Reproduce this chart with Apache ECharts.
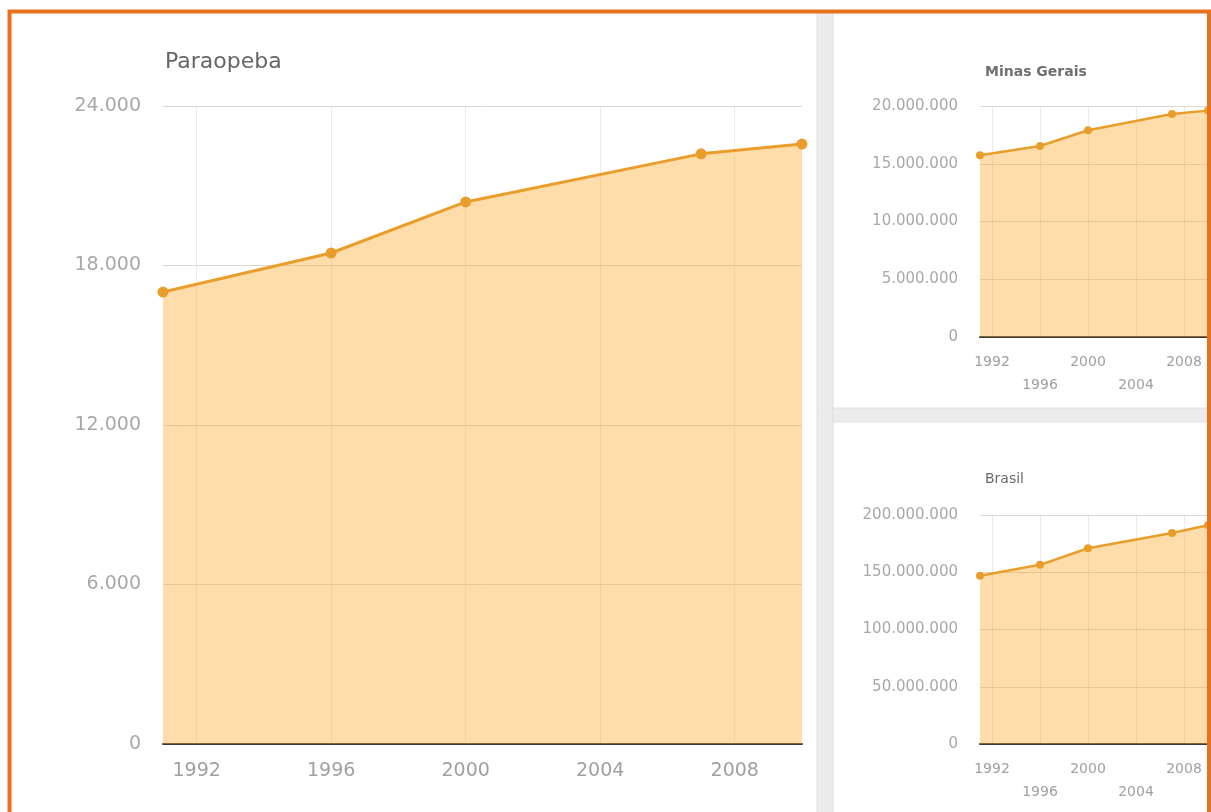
<!DOCTYPE html>
<html>
<head>
<meta charset="utf-8">
<script src="https://cdn.jsdelivr.net/npm/echarts@6/dist/echarts.min.js"></script>
<style>
html,body{margin:0;padding:0;background:#fff;overflow:hidden;}
#c{width:1211px;height:812px;}
</style>
</head>
<body>
<div id="c"></div>
<script>
// ---- data ----
const years = [1991, 1996, 2000, 2007, 2010];
const paraopeba = [17000, 18470, 20390, 22200, 22570];
const minasGerais = [15740000, 16540000, 17900000, 19300000, 19600000];
const brasil = [147000000, 156500000, 171000000, 184300000, 191000000];
const xTicks = [1992, 1996, 2000, 2004, 2008];
const secondRowTicks = [1996, 2004];
const titles = ['Paraopeba', 'Minas Gerais', 'Brasil'];

const LINE = '#e99e2c';
const AREA = 'rgba(255,170,45,0.40)';
const FONT = 'DejaVu Sans';

function fmt(v){ return String(v).replace(/\B(?=(\d{3})+(?!\d))/g, '.'); }
function pairs(vals){ return years.map((y,i)=>[y, vals[i]]); }

function xAxis(idx, size, twoRows){
  return {
    type:'value', gridIndex: idx, min: 1991, max: 2010,
    axisLine:{show:true, onZero:false, lineStyle:{color:'#3a3a3a', width:2}},
    axisTick:{show:false, customValues: xTicks},
    splitLine:{show:true, lineStyle:{color:'rgba(200,200,200,0.35)', width:1}},
    axisLabel:{
      customValues: xTicks, color:'#a0a0a0', fontFamily: FONT, fontSize: size,
      margin: twoRows ? 14 : 17, lineHeight: twoRows ? 23 : size+2,
      formatter: v => (twoRows && secondRowTicks.indexOf(v) >= 0) ? '\n' + v : String(v)
    }
  };
}
function yAxis(idx, max, interval, size){
  return {
    type:'value', gridIndex: idx, min: 0, max: max, interval: interval,
    axisLine:{show:false}, axisTick:{show:false},
    splitLine:{show:true, lineStyle:{color:'rgba(185,175,165,0.5)', width:1}},
    axisLabel:{color:'#a8a8a8', fontFamily: FONT, fontSize: size, margin: 22, formatter: fmt}
  };
}
function series(idx, vals, lw, sym){
  return {
    type:'line', xAxisIndex: idx, yAxisIndex: idx, data: pairs(vals),
    symbol:'circle', symbolSize: sym, showSymbol:true,
    lineStyle:{color: LINE, width: lw}, itemStyle:{color: LINE},
    areaStyle:{color: AREA, opacity: 1, origin: 'start'}, z: 3
  };
}

const chart = echarts.init(document.getElementById('c'), null, {renderer:'canvas'});
chart.setOption({
  animation:false,
  backgroundColor:'#ffffff',
  title:[
    {text: titles[0], left: 160, top: 46, textStyle:{fontFamily: FONT, fontSize: 22, fontWeight:'normal', color:'#666'}},
    {text: titles[1], left: 980, top: 60, textStyle:{fontFamily: FONT, fontSize: 14, fontWeight:'bold', color:'#707070'}},
    {text: titles[2], left: 980, top: 467, textStyle:{fontFamily: FONT, fontSize: 14, fontWeight:'normal', color:'#6a6a6a'}}
  ],
  grid:[
    {left: 163, top: 106, width: 639, height: 638},
    {left: 980, top: 106, width: 228, height: 231},
    {left: 980, top: 515, width: 228, height: 229}
  ],
  xAxis:[ xAxis(0, 19, false), xAxis(1, 14, true), xAxis(2, 14, true) ],
  yAxis:[ yAxis(0, 24000, 6000, 19), yAxis(1, 20000000, 5000000, 15), yAxis(2, 200000000, 50000000, 15) ],
  series:[ series(0, paraopeba, 3, 11), series(1, minasGerais, 2.5, 8), series(2, brasil, 2.5, 8) ],
  graphic:[
    // gray separators between panels
    {type:'rect', shape:{x:817, y:12, width:16, height:812}, style:{fill:'#ececec', stroke:'#e0e0e0', lineWidth:1}, z:50, silent:true},
    {type:'rect', shape:{x:833, y:408, width:380, height:14}, style:{fill:'#ececec', stroke:'#e0e0e0', lineWidth:1}, z:50, silent:true},
    // orange frame
    {type:'rect', shape:{x:9.5, y:11.5, width:1199.5, height:820}, style:{fill:'none', stroke:'#e8721c', lineWidth:4}, z:100, silent:true}
  ]
});
</script>
</body>
</html>
